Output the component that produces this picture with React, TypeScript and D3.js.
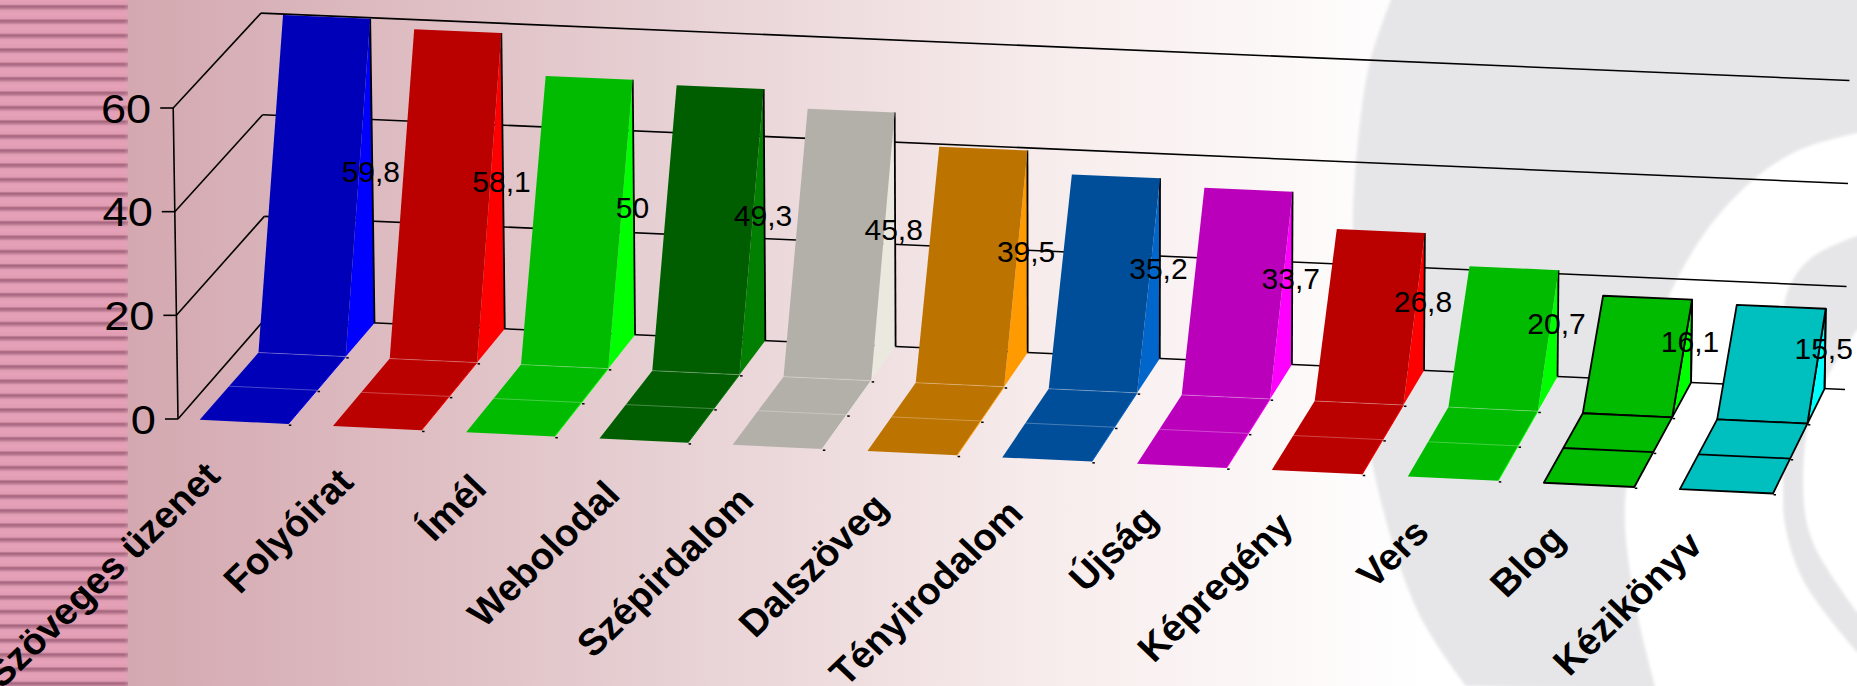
import React from "react";
import * as d3 from "d3";

const categories = ["Szöveges üzenet","Folyóirat","Ímél","Webolodal","Szépirdalom","Dalszöveg","Tényirodalom","Újság","Képregény","Vers","Blog","Kézikönyv"];
const values = [59.8,58.1,50,49.3,45.8,39.5,35.2,33.7,26.8,20.7,16.1,15.5];
const valueTicks = [0,20,40,60];
const frontColors = ["#0000b8","#bb0000","#00bb00","#005e00","#b3b0a9","#bd7300","#004d99","#bb00bb","#bb0000","#00bb00","#00bb00","#00bfbf"];
const sideColors = ["#0000ff","#ff0000","#00ff00","#007f00","#ebe8e0","#ff9a00","#0066cc","#ff00ff","#ff0000","#00ff00","#00ff00","#00ffff"];
const outlinedBars = [10,11];

const W = 1857, H = 686, barW = 0.665;
const backX = d3.scaleLinear().domain([0.665,4.665,8.665,11.665]).range([374.5,895.6,1424,1824.6]);
const frontX = d3.scaleLinear().domain([0,4,8,11,11.665]).range([199.7,732.7,1271.8,1679.9,1773]);
const frontY = d3.scaleLinear().domain([199.7,1773]).range([419.8,493.5]);
const wallT = d3.scaleLinear().domain([266,1845]).range([0,1]);
const baseY = d3.scaleLinear().domain([266,1845]).range([318,389.5]);
const lean = d3.scaleLinear().domain([0,1]).range([-5,4.5]);
const wallH = d3.scaleLinear().domain([0,1]).range([304.9,309]);
const frac = d3.scaleLinear().domain([0,60]).range([0,1]);
const axisX = d3.scaleLinear().domain([0,60]).range([178,173.2]);
const axisY = d3.scaleLinear().domain([0,60]).range([419,108]);

const wall = (x0:number,v:number):[number,number] => {
  const t = wallT(x0);
  return [x0+lean(t)*frac(v), baseY(x0)-wallH(t)*frac(v)];
};
const project = (c:number,z:number,v:number):[number,number] => {
  const xb = backX(c), xf = frontX(c);
  const [wx,wy] = wall(xb,v*z);
  const yf = frontY(xf);
  return [xf+(wx-xf)*z, yf+(wy-yf)*z];
};
const poly = d3.line<[number,number]>();
const closed = (p:[number,number][]) => poly(p)+"Z";
const swirl = d3.line<[number,number]>().curve(d3.curveCatmullRom);

const grayOuter:[number,number][] = [[1391,0],[1369,66],[1355,175],[1353,240],[1358,360],[1376,481],[1418,612],[1466,686]];
const whiteBand:[number,number][] = [[1655,686],[1637,612],[1625,525],[1627,481],[1645,360],[1691,254],[1744,188],[1797,151],[1857,133]];
const innerGrayOuter:[number,number][] = [[1857,236],[1811,258],[1787,293],[1782,400],[1783,481],[1785,525],[1804,582],[1857,652]];
const innerWhite:[number,number][] = [[1857,612],[1815,547],[1804,503],[1812,410],[1857,330]];

export default function App(){
  const bars = values.map((v,i)=>{
    const r = i+barW;
    const FL=project(i,0,0),FR=project(r,0,0),ML=project(i,1/3,0),MR=project(r,1/3,0),KL=project(i,2/3,0),KR=project(r,2/3,0);
    const TL=project(i,1,v),TR=project(r,1,v),BB=project(r,1,0);
    return {i,v,FL,FR,ML,MR,KL,KR,TL,TR,BB,label:project(r,1,v/2)};
  });
  const black = (i:number)=>outlinedBars.includes(i);
  return (
    <svg width={W} height={H} viewBox={`0 0 ${W} ${H}`} style={{display:"block",position:"absolute",left:0,top:0,fontFamily:"'Liberation Sans',Arial,sans-serif"}}>
      <style>{`body{margin:0}`}</style>
      <defs>
        <linearGradient id="bg" x1="0" x2="1" y1="0" y2="0">
          <stop offset="0" stopColor="#d4a8b0"/>
          <stop offset="0.4" stopColor="#e6cfd2"/>
          <stop offset="0.72" stopColor="#f8eded"/>
          <stop offset="1" stopColor="#ffffff"/>
        </linearGradient>
        <linearGradient id="stripe" x1="0" x2="0" y1="0" y2="1">
          <stop offset="0" stopColor="#e29eb4"/>
          <stop offset="0.22" stopColor="#e29eb4"/>
          <stop offset="0.36" stopColor="#a4647c"/>
          <stop offset="0.5" stopColor="#b87890"/>
          <stop offset="0.66" stopColor="#e29eb4"/>
          <stop offset="1" stopColor="#e6a2b8"/>
        </linearGradient>
        <pattern id="stripes" patternUnits="userSpaceOnUse" width="20" height="14.4" y="1">
          <rect width="20" height="14.4" fill="url(#stripe)"/>
        </pattern>
        <linearGradient id="fade" x1="0" x2="1" y1="0" y2="0">
          <stop offset="0" stopColor="#d4a8b0" stopOpacity="0"/>
          <stop offset="1" stopColor="#d4a8b0"/>
        </linearGradient>
        <filter id="soft"><feGaussianBlur stdDeviation="1.5"/></filter>
      </defs>
      <rect width={W} height={H} fill="#fff"/>
      <rect x={128} width={1300} height={H} fill="url(#bg)"/>
      <rect width={128} height={H} fill="url(#stripes)"/>
      <rect x={124} width={10} height={H} fill="url(#fade)"/>
      <g filter="url(#soft)">
        <path d={swirl(grayOuter)+`L${W+10} ${H+10}L${W+10} -10L1391 -10Z`} fill="#e6e6e8"/>
        <path d={swirl(whiteBand)+`L${W+10} 133L${W+10} ${H+10}L1655 ${H+10}Z`} fill="#ffffff"/>
        <path d={swirl(innerGrayOuter)+`L${W+10} 652L${W+10} 236Z`} fill="#e6e6e8"/>
        <path d={swirl(innerWhite)+`L${W+10} 330L${W+10} 612Z`} fill="#ffffff"/>
      </g>

      {valueTicks.map(v=>{
        const a:[number,number]=[axisX(v),axisY(v)];
        return <g key={v} stroke="#000" strokeWidth={1.6} fill="none">
          <path d={poly([wall(266,v),wall(1845,v)])!}/>
          <path d={poly([a,wall(266,v)])!}/>
          <path d={poly([[a[0]-13,a[1]],a])!}/>
        </g>;
      })}
      <path d={poly([[axisX(0),axisY(0)],[axisX(60),axisY(60)]])!} stroke="#000" strokeWidth={1.6} fill="none"/>
      {valueTicks.map(v=>(
        <text key={v} transform={`translate(${axisX(v)-22},${axisY(v)+14.5}) scale(1.13,1)`} textAnchor="end" fontSize={40} fill="#000">{v}</text>
      ))}

      {bars.map(b=>{
        const o=black(b.i);
        const s=o?{stroke:"#000",strokeWidth:1.8,strokeLinejoin:"round" as const}:{stroke:"none"};
        const seam=o?"#000":"rgba(255,255,255,0.35)";
        return <g key={b.i}>
          <path d={closed([b.KR,b.TR,b.BB])} fill={sideColors[b.i]} {...s}/>
          <path d={poly([b.TR,b.BB])!} stroke="#000" strokeWidth={1.8} fill="none"/>
          <path d={closed([b.KL,b.TL,b.TR,b.KR])} fill={frontColors[b.i]} {...s}/>
          <path d={closed([b.FL,b.FR,b.KR,b.KL])} fill={frontColors[b.i]} {...s}/>
          {!o && <path d={poly([b.FR,b.KR])!} stroke={sideColors[b.i]} strokeWidth={1} fill="none"/>}
          <path d={poly([b.ML,b.MR])!} stroke={seam} strokeWidth={o?1.8:0.8} fill="none"/>
          {!o && <path d={poly([b.KL,b.KR])!} stroke={seam} strokeWidth={0.8} fill="none"/>}
          {[b.FR,b.MR,b.KR].map((p,k)=>(
            <rect key={k} x={p[0]+0.5} y={p[1]+0.5} width={2.5} height={1.5} fill="#000"/>
          ))}
        </g>;
      })}

      {bars.map(b=>(
        <text key={b.i} transform={`translate(${b.label[0]-1.5},${b.label[1]+10.8})`} textAnchor="middle" fontSize={30} fill="#000">{String(b.v).replace(".",",")}</text>
      ))}

      {bars.map(b=>{
        const cx=(b.FL[0]+b.FR[0])/2, cy=(b.FL[1]+b.FR[1])/2;
        return <text key={b.i} transform={`translate(${cx-22},${cy+56}) scale(1.04,1) rotate(-45)`} textAnchor="end" fontSize={37.2} fontWeight={700} fill="#000">{categories[b.i]}</text>;
      })}
    </svg>
  );
}
